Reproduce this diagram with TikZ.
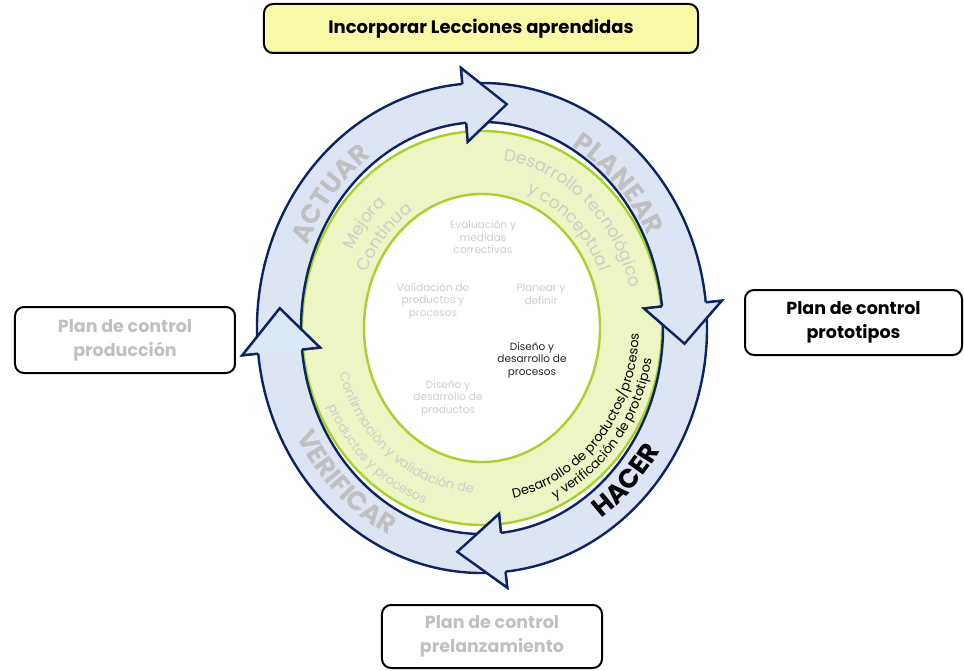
\documentclass[tikz,border=0pt]{standalone}
\usepackage{fontspec}
\setmainfont{Poppins}
\usetikzlibrary{decorations.text}

\definecolor{bandfill}{RGB}{221,229,245}
\definecolor{headfill}{RGB}{219,233,247}
\definecolor{navy}{RGB}{12,36,97}
\definecolor{ringfill}{RGB}{236,245,195}
\definecolor{ringline}{RGB}{170,208,45}
\definecolor{softgrey}{RGB}{205,205,205}
\definecolor{wordgrey}{RGB}{192,192,192}
\definecolor{lessonfill}{RGB}{247,249,166}

% radii of the blue band (outer, inner), arrow wings and tips
\def\Ro{225}\def\Qo{245}
\def\Ri{181}\def\Qi{206}
\def\Wo{241}\def\Vo{261}
\def\Wi{163}\def\Vi{187}
\def\Tm{203}\def\Sm{225.5}

% full curved arrow: tail angle, head base angle, tip angle
\newcommand\cyclearrow[3]{%
  \filldraw[band]
    ({\Ro*cos(#1)},{\Qo*sin(#1)}) arc[start angle=#1,end angle=#2,x radius=\Ro pt,y radius=\Qo pt]
    -- ({\Wo*cos(#2)},{\Vo*sin(#2)}) -- ({\Tm*cos(#3)},{\Sm*sin(#3)})
    -- ({\Wi*cos(#2)},{\Vi*sin(#2)})
    -- ({\Ri*cos(#2)},{\Qi*sin(#2)}) arc[start angle=#2,end angle=#1,x radius=\Ri pt,y radius=\Qi pt]
    -- cycle;}

% arrow head laid over the tail of the following arrow
\newcommand\cyclehead[3]{%
  \fill[#3] ({\Ro*cos(#1)},{\Qo*sin(#1)}) -- ({\Wo*cos(#1)},{\Vo*sin(#1)})
    -- ({\Tm*cos(#2)},{\Sm*sin(#2)}) -- ({\Wi*cos(#1)},{\Vi*sin(#1)})
    -- ({\Ri*cos(#1)},{\Qi*sin(#1)}) -- cycle;
  \draw[bandline] ({\Ro*cos(#1)},{\Qo*sin(#1)}) -- ({\Wo*cos(#1)},{\Vo*sin(#1)})
    -- ({\Tm*cos(#2)},{\Sm*sin(#2)}) -- ({\Wi*cos(#1)},{\Vi*sin(#1)})
    -- ({\Ri*cos(#1)},{\Qi*sin(#1)});}

% text set along an elliptic arc: rx, ry, start, end, colour, format, text
\newcommand\ringtext[7]{%
  \path[decorate, decoration={text along path, text align=center,
      text color=#5, text={|#6|#7}}]
    ({#1*cos(#3)},{#2*sin(#3)}) arc[start angle=#3,end angle=#4,x radius=#1pt,y radius=#2pt];}

\newcommand\bigword{\fontsize{26.5}{26.5}\selectfont\bfseries}
\newcommand\midword{\fontsize{17}{17}\selectfont}
\newcommand\smallword{\fontsize{13}{13}\selectfont}

\tikzset{
  band/.style={fill=bandfill, draw=navy, line width=2.4pt, line join=miter},
  bandline/.style={draw=navy, line width=2.4pt, line join=miter},
  planbox/.style={draw=black, line width=2pt, rounded corners=9pt, align=center,
    font=\bfseries\fontsize{17.5}{24}\selectfont, inner sep=0pt},
  stage/.style={align=center, text=softgrey, font=\fontsize{10.5}{12.5}\selectfont},
}

\begin{document}
\begin{tikzpicture}[x=1pt,y=1pt]
\useasboundingbox (-482,-342) rectangle (482,328);

% green ring with the white centre
\fill[ringfill, even odd rule] (0,0) ellipse[x radius=180pt,y radius=197pt]
  (0,0) ellipse[x radius=118pt,y radius=134pt];
\draw[ringline, line width=2.4pt] (0,0) ellipse[x radius=180pt,y radius=197pt];
\draw[ringline, line width=2.4pt] (0,0) ellipse[x radius=118pt,y radius=134pt];

% the four arrows of the cycle
\cyclearrow{183}{95}{83}
\cyclearrow{92}{6}{-4}
\cyclearrow{3}{-84}{-97}
\cyclearrow{-87}{-174}{-185}
\cyclehead{95}{83}{bandfill}
\cyclehead{6}{-4}{bandfill}
\cyclehead{-84}{-97}{bandfill}
\cyclehead{-174}{-185}{headfill}

% phase names in the blue band
\ringtext{190}{211}{185}{95}{wordgrey}{\bigword}{ACTUAR}
\ringtext{185}{207}{90}{0}{wordgrey}{\bigword}{PLANEAR}
\ringtext{210}{231}{-90}{0}{black}{\bigword}{HACER}
\ringtext{210}{231}{182}{272}{wordgrey}{\bigword}{VERIFICAR}

% phase descriptions in the green ring
\ringtext{147.5}{164}{180}{100}{softgrey}{\midword}{Mejora}
\ringtext{125}{141}{180}{98}{softgrey}{\midword}{Continua}
\ringtext{152.5}{169}{95}{2}{softgrey}{\midword}{Desarrollo tecnológico}
\ringtext{128}{144}{93}{2}{softgrey}{\midword}{y conceptual}
\ringtext{157}{173.5}{-85}{4}{black}{\smallword}{Desarrollo de productos/procesos}
\ringtext{172}{188.5}{-83}{7}{black}{\smallword}{y verificación de prototipos}
\ringtext{148.5}{165}{185}{279}{softgrey}{\smallword}{Confirmación y validación de}
\ringtext{170}{187}{183}{274}{softgrey}{\smallword}{productos y procesos}

% stages in the centre
\node[stage] (evaluate) at (1,91) {Evaluación y\\medidas\\correctivas};
\node[stage] (validate) at (-49,27) {Validación de\\productos y\\procesos};
\node[stage] (define) at (59,34) {Planear y\\definir};
\node[stage, text=black!85] (process) at (50,-32) {Diseño y\\desarrollo de\\procesos};
\node[stage] (product) at (-34,-70) {Diseño y\\desarrollo de\\productos};

% control plans around the cycle
\node[planbox, fill=lessonfill, minimum width=434pt, minimum height=49pt,
  font=\bfseries\fontsize{18}{22}\selectfont] (lessons)
  at (-1,299.5) {Incorporar Lecciones aprendidas};
\node[planbox, minimum width=217pt, minimum height=65pt] (proto)
  at (371.5,5.5) {Plan de control\\prototipos};
\node[planbox, minimum width=220pt, minimum height=66pt, text=wordgrey] (prod)
  at (-357,-12) {Plan de control\\producción};
\node[planbox, minimum width=220pt, minimum height=63pt, text=wordgrey] (prelaunch)
  at (10,-308.5) {Plan de control\\prelanzamiento};
\end{tikzpicture}
\end{document}
